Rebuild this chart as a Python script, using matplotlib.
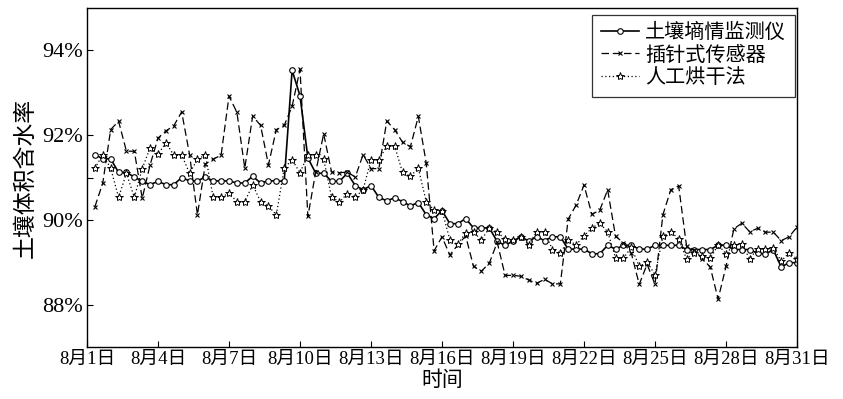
import numpy as np
import pandas as pd
import matplotlib
matplotlib.use('Agg')
import matplotlib.pyplot as plt
import matplotlib.dates as mdates

plt.rcParams['font.family'] = ['Liberation Serif', 'Noto Sans CJK SC']
plt.rcParams['axes.unicode_minus'] = False

# ── data: three readings per day, 8月1日 08:00 .. 8月31日 00:00 ──
times = pd.date_range('2016-08-01 08:00', periods=90, freq='8h')

monitor = [91.54, 91.44, 91.44, 91.12, 91.12, 91.01, 90.91, 90.83, 90.91, 90.83,
           90.83, 91.00, 90.92, 90.92, 91.01, 90.92, 90.92, 90.92, 90.87, 90.87,
           91.03, 90.87, 90.92, 90.92, 90.91, 93.53, 92.93, 91.46, 91.10, 91.10,
           90.91, 90.91, 91.10, 90.81, 90.71, 90.81, 90.53, 90.45, 90.52, 90.43,
           90.33, 90.41, 90.12, 90.03, 90.22, 89.91, 89.91, 90.03, 89.81, 89.81,
           89.81, 89.49, 89.40, 89.50, 89.60, 89.50, 89.60, 89.51, 89.60, 89.60,
           89.31, 89.31, 89.31, 89.20, 89.20, 89.40, 89.31, 89.40, 89.40, 89.31,
           89.31, 89.40, 89.40, 89.40, 89.40, 89.30, 89.30, 89.30, 89.30, 89.40,
           89.40, 89.30, 89.30, 89.30, 89.21, 89.20, 89.29, 88.89, 88.99, 88.99]

probe = [90.31, 90.87, 92.13, 92.33, 91.62, 91.62, 90.51, 91.30, 91.93, 92.10,
         92.22, 92.55, 91.54, 90.12, 91.32, 91.43, 91.53, 92.92, 92.54, 91.22,
         92.45, 92.23, 91.30, 92.13, 92.23, 92.68, 93.55, 90.08, 91.14, 92.03,
         91.13, 91.11, 91.13, 91.01, 91.54, 91.21, 91.21, 92.33, 92.13, 91.83,
         91.73, 92.44, 91.34, 89.27, 89.60, 89.17, 89.41, 89.62, 88.90, 88.79,
         88.98, 89.47, 88.69, 88.69, 88.67, 88.58, 88.50, 88.60, 88.49, 88.49,
         90.02, 90.35, 90.82, 90.13, 90.23, 90.71, 89.61, 89.46, 89.21, 88.48,
         88.95, 88.48, 90.12, 90.71, 90.80, 89.38, 89.28, 89.08, 88.89, 88.13,
         88.90, 89.79, 89.92, 89.72, 89.80, 89.71, 89.71, 89.51, 89.60, 89.83]

oven = [91.22, 91.54, 91.22, 90.53, 91.10, 90.53, 91.21, 91.70, 91.55, 91.82,
        91.53, 91.53, 91.10, 91.43, 91.53, 90.53, 90.53, 90.63, 90.43, 90.43,
        90.83, 90.43, 90.32, 90.12, 91.22, 91.42, 91.11, 91.54, 91.54, 91.43,
        90.54, 90.42, 90.62, 90.54, 90.71, 91.42, 91.42, 91.74, 91.74, 91.12,
        91.03, 91.22, 90.43, 90.23, 90.22, 89.53, 89.42, 89.70, 89.71, 89.53,
        89.81, 89.71, 89.55, 89.53, 89.60, 89.41, 89.72, 89.72, 89.30, 89.22,
        89.52, 89.41, 89.62, 89.81, 89.92, 89.72, 89.10, 89.10, 89.35, 88.90,
        89.01, 88.70, 89.61, 89.72, 89.55, 89.08, 89.23, 89.15, 89.09, 89.41,
        89.20, 89.41, 89.43, 89.08, 89.32, 89.32, 89.33, 89.03, 89.22, 89.08]

series_labels = ['土壤墒情监测仪', '插针式传感器', '人工烘干法']
tick_days = [1, 4, 7, 10, 13, 16, 19, 22, 25, 28, 31]
tick_labels = ['8月%d日' % d for d in tick_days]
y_ticks = [88, 90, 91, 92, 94]
y_tick_labels = ['88%', '90%', '', '92%', '94%']

fig = plt.figure(figsize=(8.43, 3.99), dpi=100)
ax = fig.add_axes([87 / 843, 52 / 399, 710 / 843, 339 / 399])

ax.plot(times, monitor, color='black', lw=1.2, ls='-', marker='o', ms=4,
        mfc='white', mec='black', mew=0.8, label=series_labels[0])
ax.plot(times, probe, color='black', lw=0.9, ls=(0, (6, 3)), marker='x', ms=3.5,
        mew=0.8, label=series_labels[1])
ax.plot(times, oven, color='black', lw=0.9, ls=(0, (1, 2)), marker='*', ms=6,
        mfc='white', mec='black', mew=0.7, label=series_labels[2])

ax.set_xlim(pd.Timestamp('2016-08-01'), pd.Timestamp('2016-08-31'))
ax.set_ylim(87, 95)
ax.set_xticks([pd.Timestamp('2016-08-%02d' % d) for d in tick_days])
ax.set_xticklabels(tick_labels, fontsize=13.5)
ax.set_yticks(y_ticks)
ax.set_yticklabels(y_tick_labels, fontsize=16)
ax.tick_params(direction='in', length=4, width=0.8, pad=3)
for sp in ax.spines.values():
    sp.set_linewidth(1.0)

ax.set_xlabel('时间', fontsize=15, labelpad=2)
ax.set_ylabel('土壤体积含水率', fontsize=16.5, labelpad=4)

leg = ax.legend(loc='upper right', bbox_to_anchor=(0.997, 0.979), fontsize=14.5,
                frameon=True, fancybox=False, edgecolor='black',
                handlelength=1.9, handletextpad=0.3, borderpad=0.45,
                labelspacing=0.15, borderaxespad=0)
leg.get_frame().set_linewidth(0.9)

fig.savefig('out.png', dpi=100)
